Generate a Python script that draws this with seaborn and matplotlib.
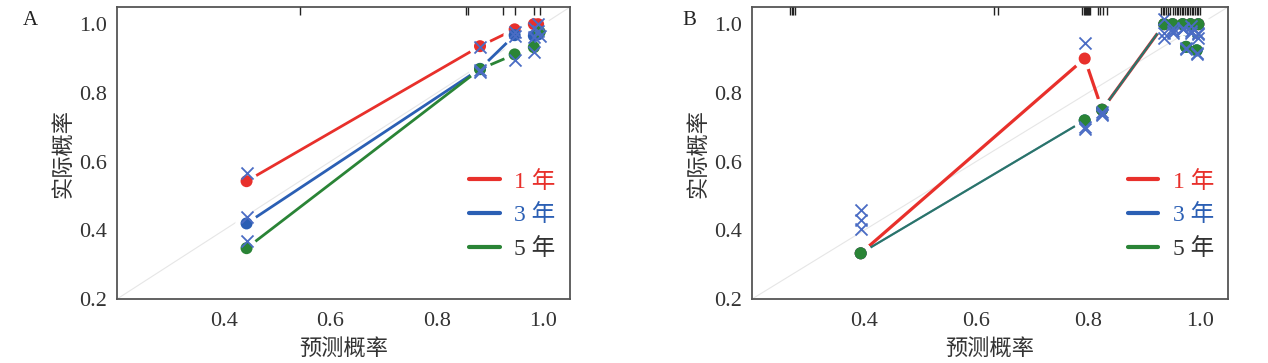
import matplotlib
matplotlib.use("Agg")
import matplotlib.pyplot as plt
import seaborn as sns
import numpy as np

# Panel A - calibration points (observed) per series
a_x_1 = [0.443, 0.881, 0.946, 0.982, 0.990]
a_y_1 = [0.543, 0.936, 0.985, 1.000, 1.000]
a_x_3 = [0.443, 0.881, 0.946, 0.982, 0.990]
a_y_3 = [0.420, 0.870, 0.968, 0.966, 0.970]
a_x_5 = [0.443, 0.881, 0.946, 0.982, 0.993]
a_y_5 = [0.348, 0.869, 0.912, 0.933, 0.977]
# Panel A - bias-corrected (X markers)
a_xc_1 = [0.566, 0.933, 0.978, 0.990, 1.000]
a_xc_3 = [0.438, 0.866, 0.965, 0.962, 0.980]
a_xc_5 = [0.368, 0.860, 0.895, 0.918, 0.965]
a_rug = [0.543, 0.854, 0.858, 0.925, 0.947, 0.982, 0.993]

# Panel B
b_x_1 = [0.394, 0.794, 0.825, 0.936, 0.951, 0.969, 0.983, 0.997]
b_y_1 = [0.333, 0.900, 0.751, 1.000, 1.000, 1.000, 1.000, 1.000]
b_x_3 = [0.394, 0.794, 0.825, 0.936, 0.951, 0.969, 0.975, 0.983, 0.994, 0.997]
b_y_3 = [0.333, 0.720, 0.751, 1.000, 1.000, 1.000, 0.934, 1.000, 0.924, 1.000]
b_x_5 = [0.394, 0.794, 0.825, 0.936, 0.951, 0.969, 0.975, 0.983, 0.994, 0.997]
b_y_5 = [0.333, 0.720, 0.751, 1.000, 1.000, 1.000, 0.934, 1.000, 0.924, 1.000]
b_xc_1 = [0.459, 0.944, 0.745, 1.015, 0.990, 0.985, 0.995, 0.975]
b_xc_3 = [0.431, 0.700, 0.738, 0.975, 0.980, 0.990, 0.930, 0.975, 0.915, 0.960]
b_xc_5 = [0.404, 0.695, 0.735, 0.960, 0.975, 0.985, 0.928, 0.980, 0.912, 0.970]
b_rug = [0.268, 0.271, 0.274, 0.277, 0.632, 0.639,
         0.790, 0.792, 0.794, 0.796, 0.798, 0.800, 0.802, 0.804,
         0.818, 0.822, 0.826, 0.834,
         0.930, 0.933, 0.936, 0.939, 0.942, 0.947, 0.951, 0.955, 0.958,
         0.961, 0.964, 0.967, 0.970, 0.973, 0.976, 0.979, 0.982, 0.985,
         0.988, 0.991, 0.994, 0.997, 1.000]

labels = ['1 年', '3 年', '5 年']
colors = ['#e8302b', '#2b5fb4', '#2a8436']
text_colors = ['#e8302b', '#2b5fb4', '#333333']
xmark_color = '#4a6cc4'
ticks = [0.2, 0.4, 0.6, 0.8, 1.0]

sns.set_style('white')
plt.rcParams['font.family'] = ['Liberation Serif', 'Noto Sans CJK SC']
plt.rcParams['axes.unicode_minus'] = False

fig = plt.figure(figsize=(12.68, 3.63), dpi=100)
ax_a = fig.add_axes([0.0923, 0.1763, 0.3573, 0.8044])
ax_b = fig.add_axes([0.5931, 0.1763, 0.3754, 0.8044])


def draw_panel(ax, series, corrected, rug, alphas, widths):
    ax.plot([0.2, 1.05], [0.2, 1.05], color='#e6e6e6', lw=0.8, zorder=1)
    for (x, y), c, a, w in zip(series, colors, alphas, widths):
        sns.lineplot(x=x, y=y, color=c, sort=False, estimator=None, lw=w,
                     alpha=a, ax=ax, zorder=2)
    # gaps around points, like R type="b"
    for x, y in series:
        ax.scatter(x, y, s=260, color='white', edgecolors='none', zorder=3)
    for (x, y), c in zip(series, colors):
        sns.scatterplot(x=x, y=y, color=c, s=75, edgecolor='none', ax=ax, zorder=4)
    for (x, _), yc in zip(series, corrected):
        sns.scatterplot(x=x, y=yc, marker='x', color=xmark_color, s=75,
                        linewidth=1.3, ax=ax, zorder=5)
    ax.vlines(rug, 0.972, 1.0, transform=ax.get_xaxis_transform(),
              color='#222222', lw=1.0, zorder=6)
    ax.set_xlim(0.2, 1.05)
    ax.set_ylim(0.2, 1.05)
    ax.set_xticks(ticks[1:])
    ax.set_yticks(ticks)
    ax.set_xticklabels(['%.1f' % t for t in ticks[1:]])
    ax.set_yticklabels(['%.1f' % t for t in ticks])
    ax.tick_params(axis='x', direction='in', length=6, width=1, color='#555555',
                   labelsize=16, pad=9, labelcolor='#333333')
    ax.tick_params(axis='y', direction='out', length=5, width=1, color='#555555',
                   labelsize=16, pad=2, labelcolor='#333333')
    for s in ax.spines.values():
        s.set_color('#555555')
        s.set_linewidth(1.3)
    ax.set_xlabel('预测概率', fontsize=16, color='#333333', labelpad=6)
    ax.set_ylabel('实际概率', fontsize=16, color='#333333', labelpad=4)
    # legend
    handles = [plt.Line2D([], [], color=c, lw=3) for c in colors]
    leg = ax.legend(handles, labels, loc='lower right', bbox_to_anchor=(1.015, 0.06),
                    frameon=False, fontsize=17, handlelength=1.3, handletextpad=0.6,
                    labelspacing=0.5)
    for t, tc in zip(leg.get_texts(), text_colors):
        t.set_color(tc)


draw_panel(ax_a, [(a_x_1, a_y_1), (a_x_3, a_y_3), (a_x_5, a_y_5)],
           [a_xc_1, a_xc_3, a_xc_5], a_rug, [1, 1, 1], [2.0, 2.0, 2.0])
draw_panel(ax_b, [(b_x_1, b_y_1), (b_x_3, b_y_3), (b_x_5, b_y_5)],
           [b_xc_1, b_xc_3, b_xc_5], b_rug, [1, 1, 0.6], [2.3, 1.5, 1.5])

fig.text(0.018, 0.93, 'A', fontsize=15, color='#222222')
fig.text(0.538, 0.93, 'B', fontsize=15, color='#222222')

fig.savefig('out.png', dpi=100)
